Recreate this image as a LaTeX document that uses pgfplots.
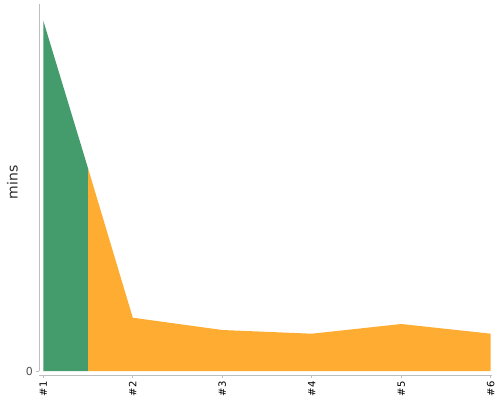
\documentclass[border=0pt]{standalone}
\usepackage{pgfplots}
\pgfplotsset{compat=1.18}
\usepackage{fontspec}
\setmainfont{DejaVu Sans}
\definecolor{areagreen}{RGB}{68,156,108}
\definecolor{areaorange}{RGB}{255,172,51}
\definecolor{axgray}{RGB}{190,190,190}
\definecolor{txtgray}{RGB}{80,80,80}
\definecolor{lblgray}{RGB}{45,45,45}
\begin{document}
\begin{tikzpicture}[x=1pt,y=1pt]
\path[use as bounding box] (0,0) rectangle (500,400);
\begin{axis}[
  at={(39.3pt,25pt)}, anchor=south west,
  scale only axis, width=452.4pt, height=371pt,
  xmin=0.9553, xmax=6.011, ymin=-4, ymax=367,
  axis x line*=bottom, axis y line*=left,
  x axis line style={draw=axgray,-},
  y axis line style={draw=none},
  tick style={draw=axgray, line width=0.8pt},
  tick align=outside, major tick length=3pt,
  xtick={1,2,3,4,5,6},
  xticklabels={\#1,\#2,\#3,\#4,\#5,\#6},
  xticklabel style={rotate=90, anchor=east, font=\fontsize{10}{12}\selectfont, text=black},
  ytick={0}, yticklabels={0},
  yticklabel style={font=\fontsize{11}{13}\selectfont, text=txtgray},
  /pgf/number format/assume math mode=true,
  ylabel={mins},
  every axis y label/.style={at={(axis description cs:0,0.519)}, xshift=-26.8pt, anchor=center, rotate=90, font=\fontsize{14}{16}\selectfont, text=lblgray},
  clip=false,
]
\addplot[draw=none, fill=areagreen] coordinates {(1,350.3) (1.5,202.7)} \closedcycle;
\addplot[draw=none, fill=areaorange] coordinates {(1.5,202.7) (2,53.3) (3,41) (4,37.3) (5,47) (6,37.3)} \closedcycle;
\draw[axgray, line width=0.8pt] (axis cs:0.9553,0) -- (axis cs:0.9553,367);
\end{axis}
\end{tikzpicture}
\end{document}
